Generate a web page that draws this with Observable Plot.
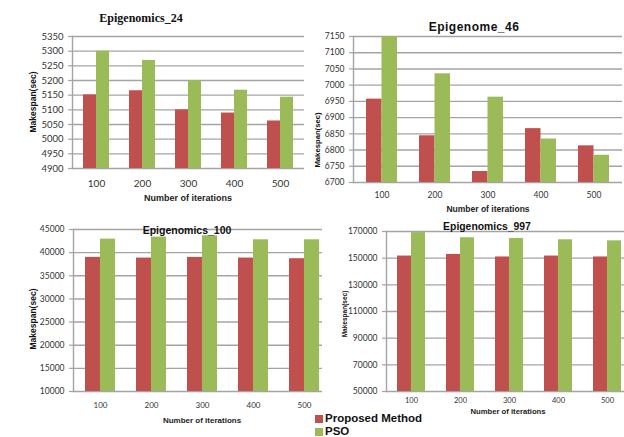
<!DOCTYPE html>
<html>
<head>
<meta charset="utf-8">
<script src="https://cdn.jsdelivr.net/npm/d3@7"></script>
<script src="https://cdn.jsdelivr.net/npm/@observablehq/plot@0.6"></script>
<style>
  html, body { margin: 0; padding: 0; background: #fff; }
  #wrap { position: relative; width: 624px; height: 437px; overflow: hidden; background: #fff; }
  #wrap svg { position: absolute; }
  .lbl { position: absolute; white-space: nowrap; line-height: 1; transform: translate(-50%, -50%); color: #111; }
  .ylab { position: absolute; white-space: nowrap; line-height: 1; transform: translate(-50%, -50%) rotate(-90deg); font-family: "Liberation Sans", Arial, sans-serif; font-weight: bold; color: #111; }
  .legend { position: absolute; left: 315px; font-family: "Liberation Sans", Arial, sans-serif; font-weight: bold; font-size: 11.5px; color: #111; display: flex; align-items: center; line-height: 1; }
  .sw { width: 8px; height: 8px; margin-right: 2px; }
</style>
</head>
<body>
<div id="wrap"></div>
<script>
// ---- data ----
const iterations = [100, 200, 300, 400, 500];
const seriesNames = ["Proposed Method", "PSO"];
const seriesColors = ["#C0504D", "#9BBB59"];

const e24Proposed = [5151, 5165, 5100, 5089, 5062];
const e24PSO      = [5300, 5268, 5200, 5167, 5143];
const e24Ticks    = [4900, 4950, 5000, 5050, 5100, 5150, 5200, 5250, 5300, 5350];

const e46Proposed = [6957, 6844, 6734, 6866, 6813];
const e46PSO      = [7150, 7035, 6963, 6834, 6784];
const e46Ticks    = [6700, 6750, 6800, 6850, 6900, 6950, 7000, 7050, 7100, 7150];

const e100Proposed = [38980, 38830, 38970, 38830, 38690];
const e100PSO      = [42920, 43350, 43640, 42780, 42780];
const e100Ticks    = [10000, 15000, 20000, 25000, 30000, 35000, 40000, 45000];

const e997Proposed = [151600, 152800, 150900, 151600, 150900];
const e997PSO      = [169200, 165300, 164800, 163800, 163000];
const e997Ticks    = [50000, 70000, 90000, 110000, 130000, 150000, 170000];

const titles = ["Epigenomics_24", "Epigenome_46", "Epigenomics_100", "Epigenomics_997"];
const xTitle = "Number of iterations";
const yTitle = "Makespan(sec)";

// ---- drawing ----
const wrap = document.getElementById("wrap");
const gridColor = "#a4a4a4";

function panel(o) {
  const rows = iterations.map((it, i) => ({iteration: String(it), proposed: o.proposed[i], pso: o.pso[i]}));
  const plotW = o.width - o.ml - o.mr;
  const bw = plotW / iterations.length * (1 - o.pad);
  const lo = o.ticks[0], hi = o.ticks[o.ticks.length - 1];
  const chart = Plot.plot({
    width: o.width, height: o.height,
    marginLeft: o.ml, marginRight: o.mr, marginTop: o.mt, marginBottom: o.mb,
    style: {background: o.bg, fontFamily: "Lato, 'Liberation Sans', sans-serif", overflow: "visible"},
    x: {type: "band", domain: iterations.map(String), paddingInner: o.pad, paddingOuter: o.pad / 2, axis: null, label: null},
    y: {domain: [lo, hi], axis: null, label: null},
    marks: [
      Plot.ruleY(o.ticks, {stroke: gridColor, strokeWidth: 1.4}),
      Plot.barY(rows, {x: "iteration", y1: lo, y2: "proposed", fill: seriesColors[0], insetRight: bw / 2}),
      Plot.barY(rows, {x: "iteration", y1: lo, y2: "pso", fill: seriesColors[1], insetLeft: bw / 2}),
      Plot.axisX({tickSize: 0, tickPadding: o.xPad, fontSize: o.xFont, fill: "#333", label: null}),
      Plot.axisY(o.ticks, {tickSize: 4, tickPadding: 5, fontSize: o.yFont, stroke: gridColor, fill: "#333", strokeWidth: 1.2, label: null, tickFormat: d => String(d)}),
      Plot.frame({anchor: "left", stroke: gridColor, strokeWidth: 1.4})
    ]
  });
  chart.style.left = o.left + "px";
  chart.style.top = o.top + "px";
  wrap.appendChild(chart);
}

function label(text, cx, cy, css) {
  const d = document.createElement("div");
  d.className = "lbl";
  d.textContent = text;
  d.style.left = cx + "px";
  d.style.top = cy + "px";
  Object.assign(d.style, css);
  wrap.appendChild(d);
}
function ylabel(text, cx, cy, size) {
  const d = document.createElement("div");
  d.className = "ylab";
  d.textContent = text;
  d.style.left = cx + "px";
  d.style.top = cy + "px";
  d.style.fontSize = size + "px";
  wrap.appendChild(d);
}

// top-left
panel({left: 0, top: 0, width: 312, height: 210, ml: 72, mr: 8, mt: 36, mb: 42,
  proposed: e24Proposed, pso: e24PSO, ticks: e24Ticks, pad: 0.44, xFont: 10, yFont: 9.5, xPad: 11, bg: "transparent"});
// top-right
panel({left: 312, top: 0, width: 312, height: 210, ml: 41, mr: 2, mt: 36, mb: 28,
  proposed: e46Proposed, pso: e46PSO, ticks: e46Ticks, pad: 0.424, xFont: 8.5, yFont: 8.5, xPad: 9, bg: "white"});
// bottom-left
panel({left: 0, top: 210, width: 331, height: 227, ml: 73, mr: 0, mt: 19, mb: 46,
  proposed: e100Proposed, pso: e100PSO, ticks: e100Ticks, pad: 0.42, xFont: 8, yFont: 8.5, xPad: 11, bg: "transparent"});
// bottom-right
panel({left: 322, top: 210, width: 310, height: 227, ml: 64, mr: 0, mt: 21, mb: 46,
  proposed: e997Proposed, pso: e997PSO, ticks: e997Ticks, pad: 0.43, xFont: 7.5, yFont: 8.5, xPad: 6, bg: "white"});

// titles
label(titles[0], 141, 17.5, {fontFamily: "'Liberation Serif', 'Times New Roman', serif", fontWeight: "bold", fontSize: "12px"});
label(titles[1], 474, 26.5, {fontFamily: "'Liberation Sans', Arial, sans-serif", fontWeight: "bold", fontSize: "12px", letterSpacing: "0.5px"});
label(titles[2], 187, 229.5, {fontFamily: "'Liberation Sans', Arial, sans-serif", fontWeight: "bold", fontSize: "10.5px"});
label(titles[3], 487, 227, {fontFamily: "'Liberation Sans', Arial, sans-serif", fontWeight: "bold", fontSize: "10.4px"});

// x-axis titles
const xt = {fontFamily: "'Liberation Sans', Arial, sans-serif", fontWeight: "bold", color: "#222"};
label(xTitle, 188, 198, Object.assign({fontSize: "9px"}, xt));
label(xTitle, 488, 209, Object.assign({fontSize: "8.5px"}, xt));
label(xTitle, 202, 421, Object.assign({fontSize: "8px"}, xt));
label(xTitle, 508, 412, Object.assign({fontSize: "7.7px"}, xt));

// y-axis titles
ylabel(yTitle, 33, 102, 8.5);
ylabel(yTitle, 318, 140, 7.7);
ylabel(yTitle, 33, 319, 8.5);
ylabel(yTitle, 345, 314, 6.5);

// legend
seriesNames.forEach((name, i) => {
  const row = document.createElement("div");
  row.className = "legend";
  row.style.top = (413 + i * 13) + "px";
  const sw = document.createElement("span");
  sw.className = "sw";
  sw.style.background = seriesColors[i];
  const t = document.createElement("span");
  t.textContent = name;
  row.appendChild(sw);
  row.appendChild(t);
  wrap.appendChild(row);
});
</script>
</body>
</html>
